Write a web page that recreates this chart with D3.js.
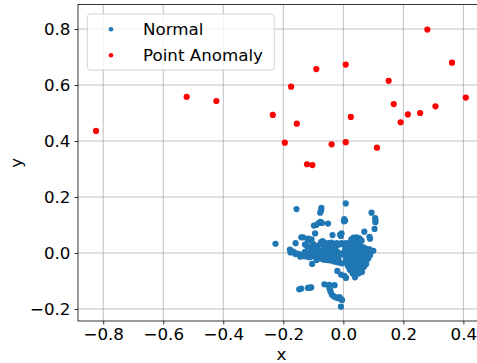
<!DOCTYPE html>
<html>
<head>
<meta charset="utf-8">
<script src="https://cdn.jsdelivr.net/npm/d3@7"></script>
<style>
  body { margin: 0; background: #fff; }
  text { font-family: "DejaVu Sans", sans-serif; fill: #000; }
</style>
</head>
<body>
<div id="chart"></div>
<script>
const width = 477;
const height = 363;

// data
const xTicks = [-0.8, -0.6, -0.4, -0.2, 0.0, 0.2, 0.4];
const yTicks = [-0.2, 0.0, 0.2, 0.4, 0.6, 0.8];
const seriesNames = ["Normal", "Point Anomaly"];

const anomalyX = [-0.824, -0.522, -0.423, -0.235, -0.174, -0.090, 0.008, -0.195, -0.155, -0.121,
  -0.103, -0.039, 0.008, 0.025, 0.112, 0.151, 0.168, 0.191, 0.215, 0.256, 0.307, 0.280, 0.362, 0.408];
const anomalyY = [0.436, 0.558, 0.543, 0.493, 0.594, 0.657, 0.673, 0.394, 0.462, 0.317,
  0.314, 0.388, 0.396, 0.486, 0.376, 0.615, 0.532, 0.467, 0.495, 0.500, 0.524, 0.798, 0.680, 0.555];

const normalPoints = [
  // upper stragglers
  [0.008, 0.177], [-0.156, 0.157], [-0.073, 0.161], [-0.074, 0.152], [-0.077, 0.144],
  [0.094, 0.144], [0.106, 0.125], [0.107, 0.117], [0.107, 0.110], [0.104, 0.086],
  [0.003, 0.121], [0.002, 0.113], [0.006, 0.115],
  [-0.098, 0.098], [-0.090, 0.100], [-0.082, 0.107], [-0.076, 0.111], [-0.071, 0.107], [-0.051, 0.105],
  [-0.094, 0.070],
  [-0.140, 0.056], [-0.134, 0.056], [-0.117, 0.051], [-0.111, 0.046], [-0.118, 0.044], [-0.106, 0.049],
  [-0.074, 0.039], [-0.069, 0.042], [-0.063, 0.037], [-0.078, 0.031], [-0.069, 0.030],
  [-0.036, 0.064], [-0.011, 0.065], [-0.006, 0.070], [-0.008, 0.061],
  [0.070, 0.076], [0.089, 0.051], [0.087, 0.058],
  [-0.226, 0.033], [-0.159, 0.035], [-0.178, 0.012], [-0.176, 0.002],
  [0.027, 0.049], [0.034, 0.055], [0.044, 0.056], [0.054, 0.052], [0.040, 0.046],
  [0.024, 0.039], [0.033, 0.038], [0.050, 0.040], [0.061, 0.044],
  [-0.048, 0.035], [-0.040, 0.037], [-0.031, 0.032], [-0.022, 0.035], [-0.014, 0.030],
  [-0.006, 0.035], [0.002, 0.029], [0.009, 0.035],
  [-0.100, 0.032], [-0.091, 0.025], [-0.109, 0.020], [-0.087, 0.013], [-0.100, 0.011],
  [-0.128, 0.030], [-0.120, 0.024], [-0.060, 0.022], [-0.052, 0.026], [-0.026, 0.020],
  // band around zero
  [-0.167, 0.005], [-0.156, -0.001], [-0.147, -0.004], [-0.139, -0.007], [-0.131, -0.011],
  [-0.122, -0.013], [-0.113, -0.015], [-0.106, -0.013], [-0.098, -0.010], [-0.089, -0.013],
  [-0.080, -0.011], [-0.072, -0.007], [-0.064, -0.001], [-0.058, 0.004], [-0.050, 0.001],
  [-0.042, 0.004], [-0.036, -0.004], [-0.027, -0.001], [-0.020, 0.004], [-0.013, -0.001],
  [-0.006, -0.004], [-0.053, 0.011], [-0.044, 0.015], [-0.031, 0.013], [-0.067, 0.013],
  [-0.078, 0.005], [-0.094, -0.001], [-0.128, 0.004], [-0.117, -0.001], [-0.111, 0.006],
  [-0.144, -0.013], [-0.138, -0.011], [-0.078, -0.019], [-0.067, -0.023], [-0.058, -0.025],
  [-0.049, -0.026], [-0.040, -0.027], [-0.031, -0.030], [-0.022, -0.032], [-0.013, -0.035],
  [-0.004, -0.037], [-0.044, -0.018], [-0.029, -0.018], [-0.016, -0.020], [-0.053, -0.013],
  [-0.104, -0.039], [-0.083, -0.013], [-0.089, -0.025], [-0.160, -0.004], [-0.070, 0.008],
  // dense blob right of zero
  [0.011, 0.023], [0.022, 0.025], [0.033, 0.027], [0.044, 0.023], [0.056, 0.025],
  [0.067, 0.020], [0.078, 0.015], [0.087, 0.013], [0.094, 0.008], [0.100, 0.008], [0.091, 0.005],
  [0.006, 0.013], [0.017, 0.011], [0.028, 0.013], [0.039, 0.011], [0.050, 0.008],
  [0.061, 0.011], [0.072, 0.006], [0.083, 0.001],
  [0.002, 0.001], [0.013, -0.001], [0.024, 0.001], [0.036, -0.001], [0.047, -0.004],
  [0.058, -0.001], [0.069, -0.006], [0.080, -0.008], [0.089, -0.008],
  [0.006, -0.011], [0.017, -0.013], [0.028, -0.011], [0.039, -0.013], [0.050, -0.015],
  [0.061, -0.013], [0.072, -0.018], [0.083, -0.020],
  [0.009, -0.023], [0.020, -0.025], [0.031, -0.023], [0.042, -0.027], [0.053, -0.025],
  [0.064, -0.030], [0.076, -0.032],
  [0.011, -0.035], [0.022, -0.037], [0.033, -0.039], [0.044, -0.037], [0.056, -0.042],
  [0.067, -0.044], [0.076, -0.039],
  [0.017, -0.049], [0.028, -0.051], [0.039, -0.049], [0.050, -0.054], [0.061, -0.056], [0.069, -0.049],
  [0.022, -0.061], [0.033, -0.063], [0.044, -0.065], [0.053, -0.061], [0.062, -0.068],
  [0.031, -0.073], [0.042, -0.077], [0.051, -0.073],
  [-0.020, -0.064], [-0.008, -0.077], [0.004, -0.082], [0.009, -0.089], [0.039, -0.087], [0.051, -0.068],
  [0.016, 0.018], [0.038, 0.019], [0.060, 0.017], [0.082, 0.009], [0.027, -0.005], [0.053, -0.008],
  [0.075, -0.026], [0.014, -0.043], [0.047, -0.045],
  // lower tail
  [-0.147, -0.130], [-0.140, -0.127], [-0.118, -0.125], [-0.111, -0.124], [-0.107, -0.123],
  [-0.063, -0.112], [-0.047, -0.114], [-0.029, -0.115], [-0.047, -0.124], [-0.044, -0.132],
  [-0.042, -0.139], [-0.038, -0.149], [-0.033, -0.154], [-0.027, -0.158], [-0.020, -0.161],
  [-0.013, -0.158], [-0.008, -0.165], [-0.004, -0.168], [-0.008, -0.192]
];

const colors = ["#1f77b4", "#ff0000"];

const svg = d3.select("#chart").append("svg")
  .attr("width", width)
  .attr("height", height);

const plot = { left: 78, right: 485, top: 4.4, bottom: 321 };

const x = d3.scaleLinear().domain([-0.884, 0.472]).range([plot.left, plot.right]);
const y = d3.scaleLinear().domain([-0.243, 0.888]).range([plot.bottom, plot.top]);

const fmt = d3.format(".1f");

// grid
svg.append("g")
  .selectAll("line")
  .data(xTicks)
  .join("line")
    .attr("x1", d => x(d)).attr("x2", d => x(d))
    .attr("y1", plot.top).attr("y2", plot.bottom)
    .attr("stroke", "#b0b0b0").attr("stroke-width", 0.8);

svg.append("g")
  .selectAll("line")
  .data(yTicks)
  .join("line")
    .attr("x1", plot.left).attr("x2", plot.right)
    .attr("y1", d => y(d)).attr("y2", d => y(d))
    .attr("stroke", "#b0b0b0").attr("stroke-width", 0.8);

// points
svg.append("g")
  .selectAll("circle")
  .data(normalPoints)
  .join("circle")
    .attr("cx", d => x(d[0]))
    .attr("cy", d => y(d[1]))
    .attr("r", 3.1)
    .attr("fill", colors[0]);

svg.append("g")
  .selectAll("circle")
  .data(anomalyX)
  .join("circle")
    .attr("cx", d => x(d))
    .attr("cy", (d, i) => y(anomalyY[i]))
    .attr("r", 3.1)
    .attr("fill", colors[1]);

// axes
const xAxis = svg.append("g")
  .attr("transform", `translate(0,${plot.bottom})`)
  .call(d3.axisBottom(x).tickValues(xTicks).tickFormat(fmt).tickSizeOuter(0).tickSize(3.5).tickPadding(4));

const yAxis = svg.append("g")
  .attr("transform", `translate(${plot.left},0)`)
  .call(d3.axisLeft(y).tickValues(yTicks).tickFormat(fmt).tickSizeOuter(0).tickSize(3.5).tickPadding(4));

[xAxis, yAxis].forEach(g => {
  g.selectAll("text").attr("font-size", 16.7).attr("font-family", "DejaVu Sans").attr("fill", "#000");
  g.selectAll("line").attr("stroke", "#000").attr("stroke-width", 0.8);
  g.select(".domain").remove();
});

// spines
svg.append("rect")
  .attr("x", plot.left).attr("y", plot.top)
  .attr("width", plot.right - plot.left).attr("height", plot.bottom - plot.top)
  .attr("fill", "none").attr("stroke", "#000").attr("stroke-width", 0.8);

// axis labels
svg.append("text")
  .attr("x", (plot.left + plot.right) / 2).attr("y", 360)
  .attr("text-anchor", "middle").attr("font-size", 16.7)
  .text("x");

svg.append("text")
  .attr("transform", `translate(22,${(plot.top + plot.bottom) / 2}) rotate(-90)`)
  .attr("text-anchor", "middle").attr("font-size", 16.7)
  .text("y");

// legend
const legend = svg.append("g");
legend.append("rect")
  .attr("x", 87.3).attr("y", 14).attr("width", 187).attr("height", 56)
  .attr("rx", 3)
  .attr("fill", "#fff").attr("fill-opacity", 0.8)
  .attr("stroke", "#cccccc").attr("stroke-width", 0.8);

seriesNames.forEach((name, i) => {
  const cy = 29.3 + i * 26;
  legend.append("circle").attr("cx", 111).attr("cy", cy).attr("r", 2.3).attr("fill", colors[i]);
  legend.append("text")
    .attr("x", 143).attr("y", cy + 5.5)
    .attr("font-size", 16.7)
    .text(name);
});
</script>
</body>
</html>
